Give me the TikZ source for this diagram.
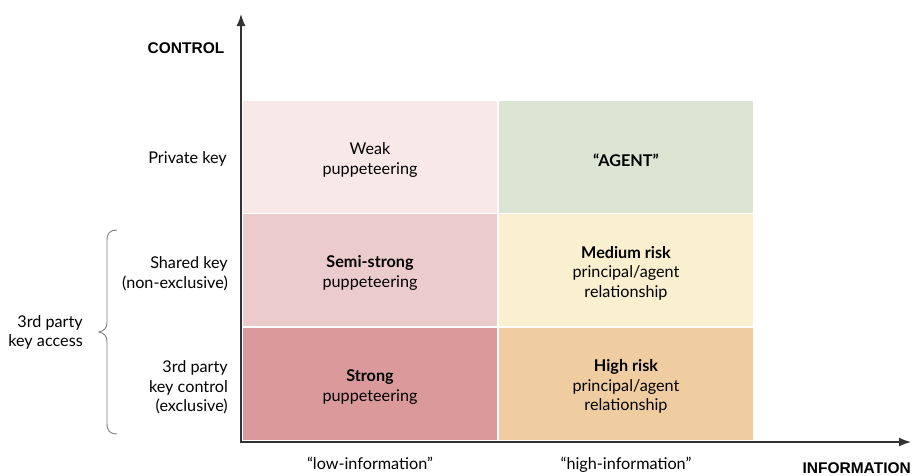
\documentclass[tikz,border=0pt]{standalone}
\usepackage{fontspec}
\setmainfont{Lato}
\newfontfamily\axisfont{Liberation Sans}
\usetikzlibrary{arrows.meta}
\definecolor{cweak}{HTML}{F9E8E8}
\definecolor{cagent}{HTML}{DCE5D3}
\definecolor{csemi}{HTML}{EBCBCB}
\definecolor{cmed}{HTML}{FAEFCF}
\definecolor{cstrong}{HTML}{DA9A9B}
\definecolor{chigh}{HTML}{F0CDA0}
\definecolor{axisgray}{HTML}{333333}
\definecolor{bracegray}{HTML}{808080}
\begin{document}
\begin{tikzpicture}[x=1pt,y=-1pt,
  txt/.style={font=\fontsize{16.2}{19.6}\selectfont, align=center, text=black, inner sep=0pt},
  cell/.style={draw=white, line width=1.6pt, minimum width=256pt, minimum height=113.5pt, inner sep=0pt},
  celltext/.style={txt, yshift=-3pt},
  rowlabel/.style={txt, align=right, anchor=east},
  axislabel/.style={font=\axisfont\bfseries\fontsize{15.5}{18}\selectfont, inner sep=0pt},
  axisline/.style={draw=axisgray, line width=1.3pt, -{Latex[length=12pt,width=9pt]}}
]
\useasboundingbox (0,0) rectangle (912,475);

% quadrant cells
\node[cell, fill=cweak]   (weak)   at (370,156.75) {};
\node[cell, fill=cagent]  (agent)  at (626,156.75) {};
\node[cell, fill=csemi]   (semi)   at (370,270.25) {};
\node[cell, fill=cmed]    (medium) at (626,270.25) {};
\node[cell, fill=cstrong] (strong) at (370,383.75) {};
\node[cell, fill=chigh]   (high)   at (626,383.75) {};

% quadrant texts
\node[celltext] (weak-t)   at (weak.center)   {Weak\\puppeteering};
\node[celltext] (agent-t)  at (agent.center)  {\bfseries “AGENT”};
\node[celltext] (semi-t)   at (semi.center)   {\bfseries Semi-strong\\puppeteering};
\node[celltext] (medium-t) at (medium.center) {\bfseries Medium risk\\principal/agent\\relationship};
\node[celltext] (strong-t) at (strong.center) {\bfseries Strong\\puppeteering};
\node[celltext] (high-t)   at (high.center)   {\bfseries High risk\\principal/agent\\relationship};

% axes
\coordinate (origin) at (241,442);
\coordinate (ytip) at (241,14);
\coordinate (xtip) at (911,442);
\draw[axisline] (origin) -- (ytip);
\draw[axisline] ([xshift=-0.65pt]origin) -- (xtip);

\node[axislabel, anchor=base] (ctrl) at (186,53) {CONTROL};
\node[axislabel, anchor=base east] (info) at (911,473) {INFORMATION};

% row labels
\node[rowlabel] (private) at (227,159) {Private key};
\node[rowlabel] (shared)  at (228,274) {Shared key\\(non-exclusive)};
\node[rowlabel] (control) at (228,387.5) {3rd party\\key control\\(exclusive)};
\node[rowlabel] (access)  at (83,332.5)  {3rd party\\key access};

% brace grouping the two 3rd-party rows
\draw[bracegray, line width=0.9pt]
  (117,230) .. controls (110,230) and (107,233) .. (107,241)
  -- (107,322) .. controls (107,328) and (104,331) .. (99,332)
  .. controls (104,333) and (107,336) .. (107,342)
  -- (107,423) .. controls (107,431) and (110,434) .. (117,434);

% column labels
\node[txt, anchor=base] (low)  at (370,469) {“low-information”};
\node[txt, anchor=base] (hinf) at (626,469) {“high-information”};
\end{tikzpicture}
\end{document}
